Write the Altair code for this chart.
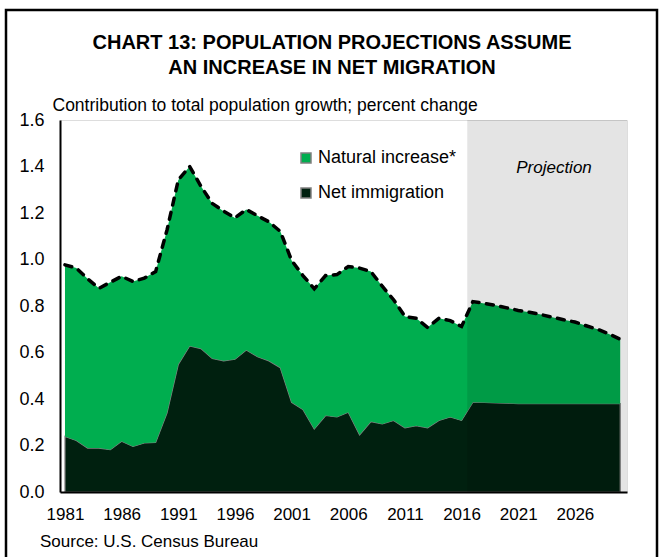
import altair as alt
import pandas as pd

FONT = "Liberation Sans"

years = list(range(1981, 2031))
net_immigration = [
    0.239, 0.222, 0.189, 0.189, 0.182, 0.218, 0.196, 0.211, 0.213, 0.340,
    0.549, 0.628, 0.617, 0.574, 0.564, 0.571, 0.611, 0.582, 0.564, 0.535,
    0.386, 0.355, 0.271, 0.329, 0.323, 0.343, 0.246, 0.303, 0.293, 0.308,
    0.276, 0.285, 0.276, 0.308, 0.323, 0.308, 0.386, 0.385, 0.383, 0.382,
    0.380, 0.380, 0.380, 0.380, 0.380, 0.380, 0.380, 0.380, 0.380, 0.380,
]
natural_increase = [
    0.738, 0.741, 0.728, 0.687, 0.720, 0.710, 0.709, 0.709, 0.735, 0.786,
    0.793, 0.772, 0.698, 0.667, 0.644, 0.608, 0.604, 0.606, 0.598, 0.586,
    0.610, 0.576, 0.603, 0.602, 0.612, 0.627, 0.717, 0.645, 0.592, 0.519,
    0.479, 0.462, 0.432, 0.439, 0.414, 0.404, 0.433, 0.426, 0.420, 0.410,
    0.401, 0.393, 0.383, 0.372, 0.361, 0.351, 0.335, 0.320, 0.300, 0.277,
]
tick_years = [1981, 1986, 1991, 1996, 2001, 2006, 2011, 2016, 2021, 2026]
y_ticks = [0.0, 0.2, 0.4, 0.6, 0.8, 1.0, 1.2, 1.4, 1.6]
series_names = ["Natural increase*", "Net immigration"]
series_colors = ["#00AE4F", "#00200F"]
projection_start = [2016.5]
projection_end = [2030.6]

title_lines = ["CHART 13: POPULATION PROJECTIONS ASSUME", "AN INCREASE IN NET MIGRATION"]
subtitle = "Contribution to total population growth; percent change"
source = "Source: U.S. Census Bureau"
projection_label = "Projection"

df = pd.DataFrame({"year": years, "net": net_immigration, "natural": natural_increase})
proj_df = pd.DataFrame({"start": projection_start, "end": projection_end,
                        "lo": [0.0], "hi": [1.6]})
one = pd.DataFrame({"a": [0]})

xscale = alt.Scale(domain=[1980.56, 2030.6], nice=False, zero=False)
yscale = alt.Scale(domain=[0, 1.6], nice=False)

x_axis = alt.Axis(values=tick_years, format="d", title=None, labelFontSize=17,
                  labelFont=FONT, labelColor="black", labelPadding=14, ticks=False,
                  domainColor="black", domainWidth=2, grid=False, zindex=1,
                  labelFlush=False, labelOverlap=False)
y_axis = alt.Axis(values=y_ticks, format=".1f", title=subtitle, titleAngle=0,
                  titleX=-8, titleY=-15, titleAlign="left", titleBaseline="middle",
                  titleFontSize=17.5, titleFont=FONT, titleFontWeight="normal",
                  titleColor="black", labelFontSize=18, labelFont=FONT,
                  labelColor="black", labelPadding=16, ticks=False,
                  domainColor="black", domainWidth=2, grid=False, zindex=1,
                  labelFlush=False, labelOverlap=False)

color_scale = alt.Scale(domain=series_names, range=series_colors)
legend = alt.Legend(orient="none", legendX=237, legendY=29, title=None,
                    symbolType="square", symbolSize=100, labelFontSize=18,
                    labelFont=FONT, labelColor="black", rowPadding=17,
                    labelOffset=3, padding=0)

base = alt.Chart(df)

border = alt.Chart(one).mark_rect(filled=False, stroke="black", strokeWidth=2.5).encode(
    x=alt.value(-54), x2=alt.value(597), y=alt.value(-110), y2=alt.value(470)
)

net_area = base.transform_calculate(series="'" + series_names[1] + "'").mark_area(
    stroke="#808080", strokeWidth=1.2, opacity=1
).encode(
    x=alt.X("year:Q", scale=xscale, axis=x_axis),
    y=alt.Y("net:Q", scale=yscale, axis=y_axis),
    color=alt.Color("series:N", scale=color_scale, legend=legend),
)

natural_area = base.transform_calculate(
    total="datum.net + datum.natural", series="'" + series_names[0] + "'"
).mark_area(opacity=1).encode(
    x=alt.X("year:Q", scale=xscale),
    y=alt.Y("total:Q", scale=yscale),
    y2="net:Q",
    color=alt.Color("series:N", scale=color_scale, legend=legend),
)

overlay = alt.Chart(proj_df).mark_rect(color="black", opacity=0.106).encode(
    x=alt.X("start:Q", scale=xscale),
    x2="end:Q",
    y=alt.Y("lo:Q", scale=yscale),
    y2="hi:Q",
)

total_line = base.transform_calculate(total="datum.net + datum.natural").mark_line(
    color="black", strokeWidth=3.5, strokeDash=[7, 7.5], strokeCap="round"
).encode(
    x=alt.X("year:Q", scale=xscale),
    y=alt.Y("total:Q", scale=yscale),
)

title1 = alt.Chart(one).mark_text(text=title_lines[0], font=FONT, fontSize=20, fontWeight="bold",
                                  align="center", baseline="middle", color="black").encode(
    x=alt.value(272), y=alt.value(-77))
title2 = alt.Chart(one).mark_text(text=title_lines[1], font=FONT, fontSize=20, fontWeight="bold",
                                  align="center", baseline="middle", color="black").encode(
    x=alt.value(272), y=alt.value(-52))
proj_text = alt.Chart(one).mark_text(text=projection_label, font=FONT, fontSize=17, fontStyle="italic",
                                     align="center", baseline="middle", color="black").encode(
    x=alt.value(494), y=alt.value(48))
source_text = alt.Chart(one).mark_text(text=source, font=FONT, fontSize=17,
                                       align="left", baseline="middle", color="black").encode(
    x=alt.value(-20), y=alt.value(422))

chart = alt.layer(
    border, net_area, natural_area, overlay, total_line,
    title1, title2, proj_text, source_text
).properties(
    width=567, height=372,
    autosize=alt.AutoSizeParams(type="none"),
    padding={"left": 60, "top": 120, "right": 37, "bottom": 65},
).configure_view(stroke=None).configure(background="white")

chart.save("out.html", embed_options={"renderer": "svg", "actions": False})
